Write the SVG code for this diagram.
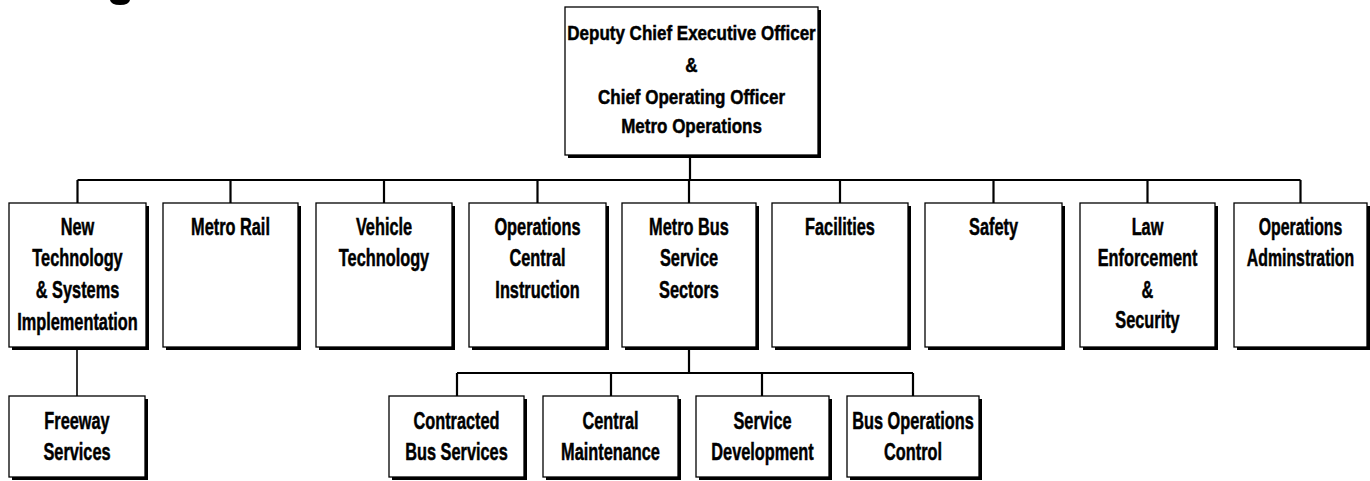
<svg xmlns="http://www.w3.org/2000/svg" width="1370" height="481" viewBox="0 0 1370 481">
<style>
  .box{fill:#fff;stroke:#000;stroke-width:1.3}
  .shadow{fill:#000}
  .t{font-family:"Liberation Sans",Arial,sans-serif;font-weight:bold;font-size:24px;text-anchor:middle;fill:#000;stroke:#000;stroke-width:0.5}
  .tt{font-size:21px}
  .conn{stroke:#000;stroke-width:2.2;fill:none}
  .thin{stroke-width:1.6}
</style>
<rect width="1370" height="481" fill="#fff"/>
<path d="M110,0 Q111,5 120,5 Q129,5 130,0 Z" fill="#000"/>

<g id="connectors">
  <path class="conn" d="M690,155 V180 M77.5,180 H1300.5 M77.5,180 V203 M230.5,180 V203 M384,180 V203 M537.5,180 V203 M689,180 V203 M840,180 V203 M993.5,180 V203 M1147.5,180 V203 M1300.5,180 V203"/>
  <path class="conn thin" d="M77,347 V396"/>
  <path class="conn" d="M689,347 V373 M457,373 H913 M457,373 V396 M611,373 V396 M762,373 V396 M913,373 V396"/>
</g>

<g id="ceo">
  <rect class="shadow" x="568" y="10" width="253" height="148"/>
  <rect class="box" x="565" y="7" width="253" height="148"/>
  <g transform="translate(691.5 0) scale(0.81 1)">
    <text class="t tt" x="0" y="40">Deputy Chief Executive Officer</text>
    <text class="t tt" x="0" y="72.5">&amp;</text>
    <text class="t tt" x="0" y="104">Chief Operating Officer</text>
    <text class="t tt" x="0" y="133.5">Metro Operations</text>
  </g>
</g>

<g id="new-tech">
  <rect class="shadow" x="12" y="206" width="137" height="144"/>
  <rect class="box" x="9" y="203" width="137" height="144"/>
  <g transform="translate(77.5 0) scale(0.68 1)">
    <text class="t" x="0" y="235.5">New</text>
    <text class="t" x="0" y="266">Technology</text>
    <text class="t" x="0" y="298">&amp; Systems</text>
    <text class="t" x="0" y="330">Implementation</text>
  </g>
</g>

<g id="metro-rail">
  <rect class="shadow" x="166" y="206" width="135" height="144"/>
  <rect class="box" x="163" y="203" width="135" height="144"/>
  <g transform="translate(230.5 0) scale(0.68 1)">
    <text class="t" x="0" y="235.5">Metro Rail</text>
  </g>
</g>

<g id="vehicle-tech">
  <rect class="shadow" x="319" y="206" width="136" height="144"/>
  <rect class="box" x="316" y="203" width="136" height="144"/>
  <g transform="translate(384 0) scale(0.68 1)">
    <text class="t" x="0" y="235.5">Vehicle</text>
    <text class="t" x="0" y="266">Technology</text>
  </g>
</g>

<g id="ops-central">
  <rect class="shadow" x="472" y="206" width="137" height="144"/>
  <rect class="box" x="469" y="203" width="137" height="144"/>
  <g transform="translate(537.5 0) scale(0.68 1)">
    <text class="t" x="0" y="235.5">Operations</text>
    <text class="t" x="0" y="266">Central</text>
    <text class="t" x="0" y="298">Instruction</text>
  </g>
</g>

<g id="metro-bus">
  <rect class="shadow" x="625" y="206" width="134" height="144"/>
  <rect class="box" x="622" y="203" width="134" height="144"/>
  <g transform="translate(689 0) scale(0.68 1)">
    <text class="t" x="0" y="235.5">Metro Bus</text>
    <text class="t" x="0" y="266">Service</text>
    <text class="t" x="0" y="298">Sectors</text>
  </g>
</g>

<g id="facilities">
  <rect class="shadow" x="775" y="206" width="136" height="144"/>
  <rect class="box" x="772" y="203" width="136" height="144"/>
  <g transform="translate(840 0) scale(0.68 1)">
    <text class="t" x="0" y="235.5">Facilities</text>
  </g>
</g>

<g id="safety">
  <rect class="shadow" x="928" y="206" width="137" height="144"/>
  <rect class="box" x="925" y="203" width="137" height="144"/>
  <g transform="translate(993.5 0) scale(0.68 1)">
    <text class="t" x="0" y="235.5">Safety</text>
  </g>
</g>

<g id="law">
  <rect class="shadow" x="1083" y="206" width="135" height="144"/>
  <rect class="box" x="1080" y="203" width="135" height="144"/>
  <g transform="translate(1147.5 0) scale(0.68 1)">
    <text class="t" x="0" y="235.5">Law</text>
    <text class="t" x="0" y="266">Enforcement</text>
    <text class="t" x="0" y="298">&amp;</text>
    <text class="t" x="0" y="328">Security</text>
  </g>
</g>

<g id="ops-admin">
  <rect class="shadow" x="1237" y="206" width="133" height="144"/>
  <rect class="box" x="1234" y="203" width="133" height="144"/>
  <g transform="translate(1300.5 0) scale(0.66 1)">
    <text class="t" x="0" y="235.5">Operations</text>
    <text class="t" x="0" y="266">Adminstration</text>
  </g>
</g>

<g id="freeway">
  <rect class="shadow" x="12" y="399" width="136" height="81"/>
  <rect class="box" x="9" y="396" width="136" height="81"/>
  <g transform="translate(77 0) scale(0.68 1)">
    <text class="t" x="0" y="429">Freeway</text>
    <text class="t" x="0" y="460">Services</text>
  </g>
</g>

<g id="contracted">
  <rect class="shadow" x="392" y="399" width="135" height="81"/>
  <rect class="box" x="389" y="396" width="135" height="81"/>
  <g transform="translate(456.5 0) scale(0.68 1)">
    <text class="t" x="0" y="429">Contracted</text>
    <text class="t" x="0" y="460">Bus Services</text>
  </g>
</g>

<g id="central-maint">
  <rect class="shadow" x="546" y="399" width="135" height="81"/>
  <rect class="box" x="543" y="396" width="135" height="81"/>
  <g transform="translate(610.5 0) scale(0.68 1)">
    <text class="t" x="0" y="429">Central</text>
    <text class="t" x="0" y="460">Maintenance</text>
  </g>
</g>

<g id="service-dev">
  <rect class="shadow" x="699" y="399" width="133" height="81"/>
  <rect class="box" x="696" y="396" width="133" height="81"/>
  <g transform="translate(762.5 0) scale(0.68 1)">
    <text class="t" x="0" y="429">Service</text>
    <text class="t" x="0" y="460">Development</text>
  </g>
</g>

<g id="bus-ops">
  <rect class="shadow" x="850" y="399" width="132" height="81"/>
  <rect class="box" x="847" y="396" width="132" height="81"/>
  <g transform="translate(913 0) scale(0.68 1)">
    <text class="t" x="0" y="429">Bus Operations</text>
    <text class="t" x="0" y="460">Control</text>
  </g>
</g>
</svg>
